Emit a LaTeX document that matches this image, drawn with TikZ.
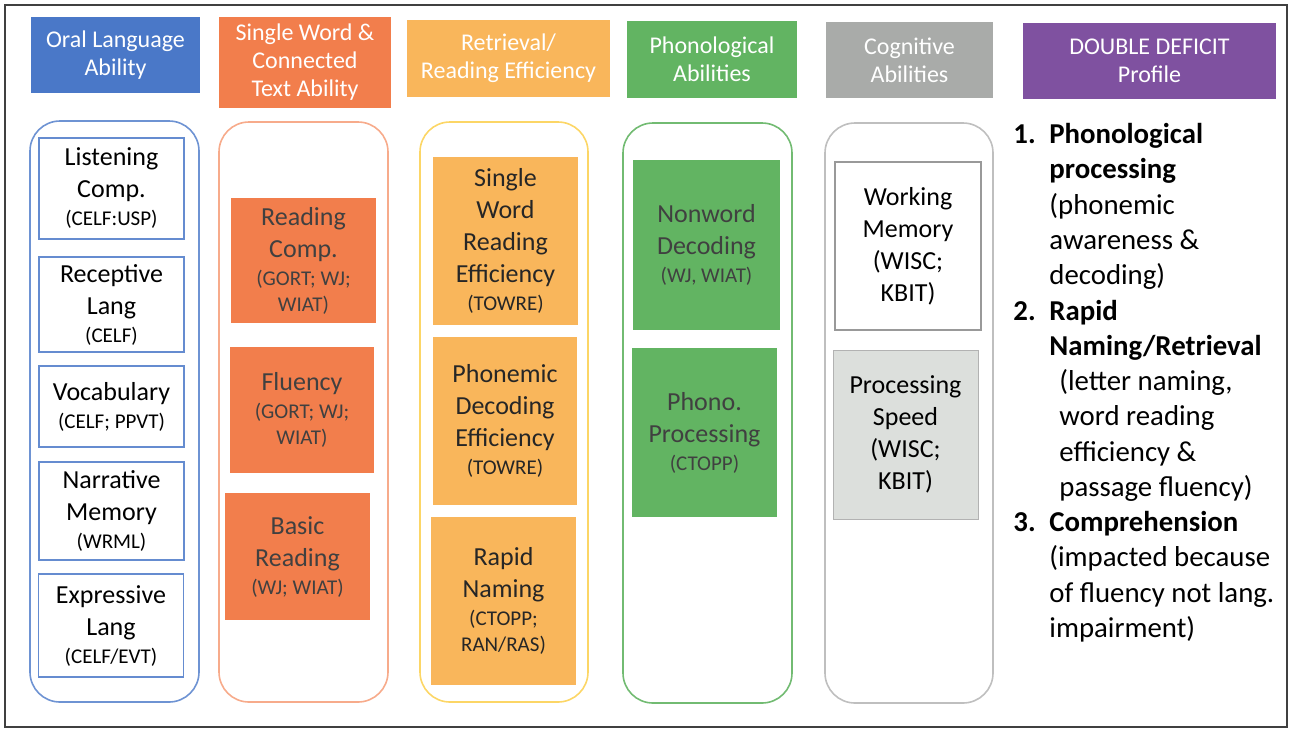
\documentclass[tikz,border=0pt]{standalone}
\usepackage{fontspec}
\setmainfont{Carlito}
\usepackage{tikz}

\definecolor{oralblue}{HTML}{4A78C8}
\definecolor{textorange}{HTML}{F27E4C}
\definecolor{retrgold}{HTML}{F9B65B}
\definecolor{phongreen}{HTML}{62B462}
\definecolor{coggray}{HTML}{A9ABA9}
\definecolor{ddpurple}{HTML}{7F51A0}
\definecolor{speedgray}{HTML}{DCDFDC}
\newcommand{\srcnote}[1]{{\fontsize{10.5}{13}\selectfont #1}}

\begin{document}
\begin{tikzpicture}
  [x=0.5pt, y=-0.5pt,
   hnode/.style={minimum size=0, inner sep=0, text=white, align=center,
                 font=\fontsize{12}{14}\selectfont},
   cnode/.style={minimum size=0, inner sep=0, rounded corners=15pt, line width=0.8pt},
   bnode/.style={minimum size=0, inner sep=0, align=center,
                 font=\fontsize{13}{16}\selectfont}]

  \useasboundingbox (0,0) rectangle (1290,730);

  % frame
  \draw[line width=1pt, draw=black!75] (5,5) rectangle (1287,727);

  % headers
  \node[hnode, fill=oralblue, minimum width=84.5pt, minimum height=38pt]
    (oral) at (115.5,55) {Oral Language\\Ability};
  \node[hnode, fill=textorange, minimum width=86pt, minimum height=45.5pt]
    (text) at (305,62.5) {Single Word \&\\Connected\\Text Ability};
  \node[hnode, fill=retrgold, minimum width=101.5pt, minimum height=38.5pt]
    (retr) at (508.5,58.5) {Retrieval/\\Reading Efficiency};
  \node[hnode, fill=phongreen, minimum width=85pt, minimum height=38.5pt]
    (phon) at (712,59.5) {Phonological\\Abilities};
  \node[hnode, fill=coggray, minimum width=83.5pt, minimum height=38pt]
    (cogn) at (909.5,60) {Cognitive\\Abilities};
  \node[hnode, fill=ddpurple, minimum width=126.5pt, minimum height=38pt]
    (dd) at (1149.5,61) {DOUBLE DEFICIT\\Profile};

  % column frames
  \node[cnode, draw=oralblue!80, minimum width=84.5pt, minimum height=290.5pt]
    (oralcol) at (114.5,411.5) {};
  \node[cnode, draw=textorange!65, minimum width=84.5pt, minimum height=290pt]
    (textcol) at (303.5,412) {};
  \node[cnode, draw=retrgold!70!yellow!80, minimum width=84pt, minimum height=290pt]
    (retrcol) at (504,412) {};
  \node[cnode, draw=phongreen!90, minimum width=84.5pt, minimum height=290pt]
    (phoncol) at (707.5,413) {};
  \node[cnode, draw=black!25, minimum width=84pt, minimum height=290pt]
    (cogncol) at (909,413) {};

  % oral language
  \node[bnode, draw=oralblue!85, line width=0.8pt, minimum width=72.5pt, minimum height=50.5pt]
    (listen) at (111.5,188.5) {Listening\\Comp.\\[-2pt]\srcnote{(CELF:USP)}};
  \node[bnode, draw=oralblue!85, line width=0.8pt, minimum width=72.5pt, minimum height=47.5pt]
    (recept) at (111.5,304.5) {Receptive\\Lang\\[-2pt]\srcnote{(CELF)}};
  \node[bnode, draw=oralblue!85, line width=0.8pt, minimum width=72.5pt, minimum height=40.5pt]
    (vocab) at (111.5,406.5) {Vocabulary\\[-2pt]\srcnote{(CELF; PPVT)}};
  \node[bnode, draw=oralblue!85, line width=0.8pt, minimum width=72.5pt, minimum height=49pt]
    (narr) at (111.5,511) {Narrative\\Memory\\[-2pt]\srcnote{(WRML)}};
  \node[bnode, draw=oralblue!85, line width=0.8pt, minimum width=72.5pt, minimum height=51.5pt]
    (expr) at (111,625.5) {Expressive\\Lang\\[-2pt]\srcnote{(CELF/EVT)}};

  % single word and connected text
  \node[bnode, fill=textorange, text=black!75, minimum width=72.5pt, minimum height=62.5pt]
    (rcomp) at (303.5,260.5) {Reading\\Comp.\\[-2pt]\srcnote{(GORT; WJ;}\\[-3pt]\srcnote{WIAT)}};
  \node[bnode, fill=textorange, text=black!75, minimum width=72pt, minimum height=63pt]
    (fluency) at (302,410) {Fluency\\[-2pt]\srcnote{(GORT; WJ;}\\[-3pt]\srcnote{WIAT)}};
  \node[bnode, fill=textorange, text=black!75, minimum width=72.5pt, minimum height=63.5pt]
    (basic) at (297.5,556.5) {Basic\\Reading\\[-2pt]\srcnote{(WJ; WIAT)}};

  % retrieval / reading efficiency
  \node[bnode, fill=retrgold, text=black!85, minimum width=72.5pt, minimum height=84pt]
    (swre) at (505.5,241) {Single\\Word\\Reading\\Efficiency\\[-2pt]\srcnote{(TOWRE)}};
  \node[bnode, fill=retrgold, text=black!85, minimum width=72pt, minimum height=84pt]
    (pde) at (505,421) {Phonemic\\Decoding\\Efficiency\\[-2pt]\srcnote{(TOWRE)}};
  \node[bnode, fill=retrgold, text=black!85, minimum width=72.5pt, minimum height=84pt]
    (ran) at (503.5,601) {Rapid\\Naming\\[-2pt]\srcnote{(CTOPP;}\\[-3pt]\srcnote{RAN/RAS)}};

  % phonological abilities
  \node[bnode, fill=phongreen, text=black!75, minimum width=73.5pt, minimum height=85pt]
    (nonword) at (706.5,245) {Nonword\\Decoding\\[-2pt]\srcnote{(WJ, WIAT)}};
  \node[bnode, fill=phongreen, text=black!75, minimum width=72.5pt, minimum height=84.5pt]
    (phproc) at (704.5,432.5) {Phono.\\Processing\\[-2pt]\srcnote{(CTOPP)}};

  % cognitive abilities
  \node[bnode, draw=black!40, line width=0.8pt, minimum width=73pt, minimum height=84pt]
    (wmem) at (908,246) {Working\\Memory\\(WISC;\\KBIT)};
  \node[bnode, fill=speedgray, draw=black!30, line width=0.5pt, minimum width=72.5pt, minimum height=84.5pt]
    (pspeed) at (905.5,434.5) {Processing\\Speed\\(WISC;\\KBIT)};

  % double deficit list
  \node[anchor=north west, inner sep=0, align=left, font=\fontsize{14.4}{17.64}\selectfont]
    (ddlist) at (1013,123) {%
      \makebox[18pt][l]{\textbf{1.}}\textbf{Phonological}\\
      \hspace*{18pt}\textbf{processing}\\
      \hspace*{18pt}(phonemic\\
      \hspace*{18pt}awareness \&\\
      \hspace*{18pt}decoding)\\
      \makebox[18pt][l]{\textbf{2.}}\textbf{Rapid}\\
      \hspace*{18pt}\textbf{Naming/Retrieval}\\
      \hspace*{23pt}(letter naming,\\
      \hspace*{23pt}word reading\\
      \hspace*{23pt}efficiency \&\\
      \hspace*{23pt}passage fluency)\\
      \makebox[18pt][l]{\textbf{3.}}\textbf{Comprehension}\\
      \hspace*{18pt}(impacted because\\
      \hspace*{18pt}of fluency not lang.\\
      \hspace*{18pt}impairment)};

\end{tikzpicture}
\end{document}
